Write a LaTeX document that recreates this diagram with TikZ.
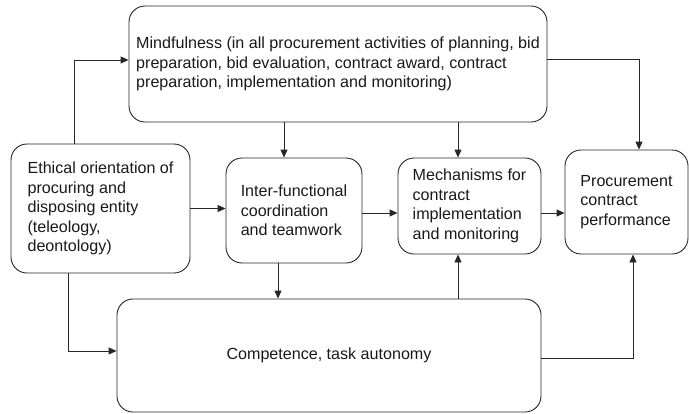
\documentclass[tikz,border=0pt]{standalone}
\usepackage{fontspec}
\setmainfont{Liberation Sans}
\usetikzlibrary{arrows.meta}
\begin{document}
\begin{tikzpicture}[x=1pt,y=-1pt,
		box/.style={draw=black!85, line width=0.9pt, rounded corners=16pt, align=left, inner sep=0pt, text=black!90, font=\fontsize{16.1}{19.5}\selectfont},
		arr/.style={draw=black!85, line width=0.9pt, -{Triangle[length=8pt,width=7pt]}}]
		\useasboundingbox (0,0) rectangle (689,413);
		\node[box, minimum width=418, minimum height=116] (mind) at (338,64) {Mindfulness (in all procurement activities of planning, bid\\preparation, bid evaluation, contract award, contract\\preparation, implementation and monitoring)};
		\node[box, minimum width=179, minimum height=129] (ethic) at (100.5,208.5) {Ethical orientation of\\procuring and\\disposing entity\\(teleology,\\deontology)};
		\node[box, minimum width=136, minimum height=105] (inter) at (294,210.5) {Inter-functional\\coordination\\and teamwork};
		\node[box, minimum width=143, minimum height=96] (mech) at (469.5,206) {Mechanisms for\\contract\\implementation\\and monitoring};
		\node[box, minimum width=123, minimum height=104] (proc) at (626.5,202) {Procurement\\contract\\performance};
		\node[box, minimum width=424, minimum height=113] (comp) at (329,355.5) {Competence, task autonomy};
		% connectors
		\draw[arr] ([xshift=-26.5pt]ethic.north) |- ([yshift=4pt]mind.west);
		\draw[arr] ([xshift=-10pt]inter.north |- mind.south) -- ([xshift=-10pt]inter.north);
		\draw[arr] ([xshift=-11.5pt]mech.north |- mind.south) -- ([xshift=-11.5pt]mech.north);
		\draw[arr] ([yshift=5pt]mind.east) -| ([xshift=12.5pt]proc.north);
		\draw[arr] (ethic.east) -- (ethic.east -| inter.west);
		\draw[arr] ([yshift=-2.5pt]inter.east) -- ([yshift=-2.5pt]inter.east -| mech.west);
		\draw[arr] ([yshift=-7pt]mech.east) -- ([yshift=-7pt]mech.east -| proc.west);
		\draw[arr] ([xshift=-16pt]inter.south) -- ([xshift=-16pt]inter.south |- comp.north);
		\draw[arr] ([xshift=-32.5pt]ethic.south) |- ([yshift=4.5pt]comp.west);
		\draw[arr] ([xshift=-11.5pt]mech.south |- comp.north) -- ([xshift=-11.5pt]mech.south);
		\draw[arr] ([yshift=-2.5pt]comp.east) -| ([xshift=6.5pt]proc.south);
	\end{tikzpicture}
\end{document}
